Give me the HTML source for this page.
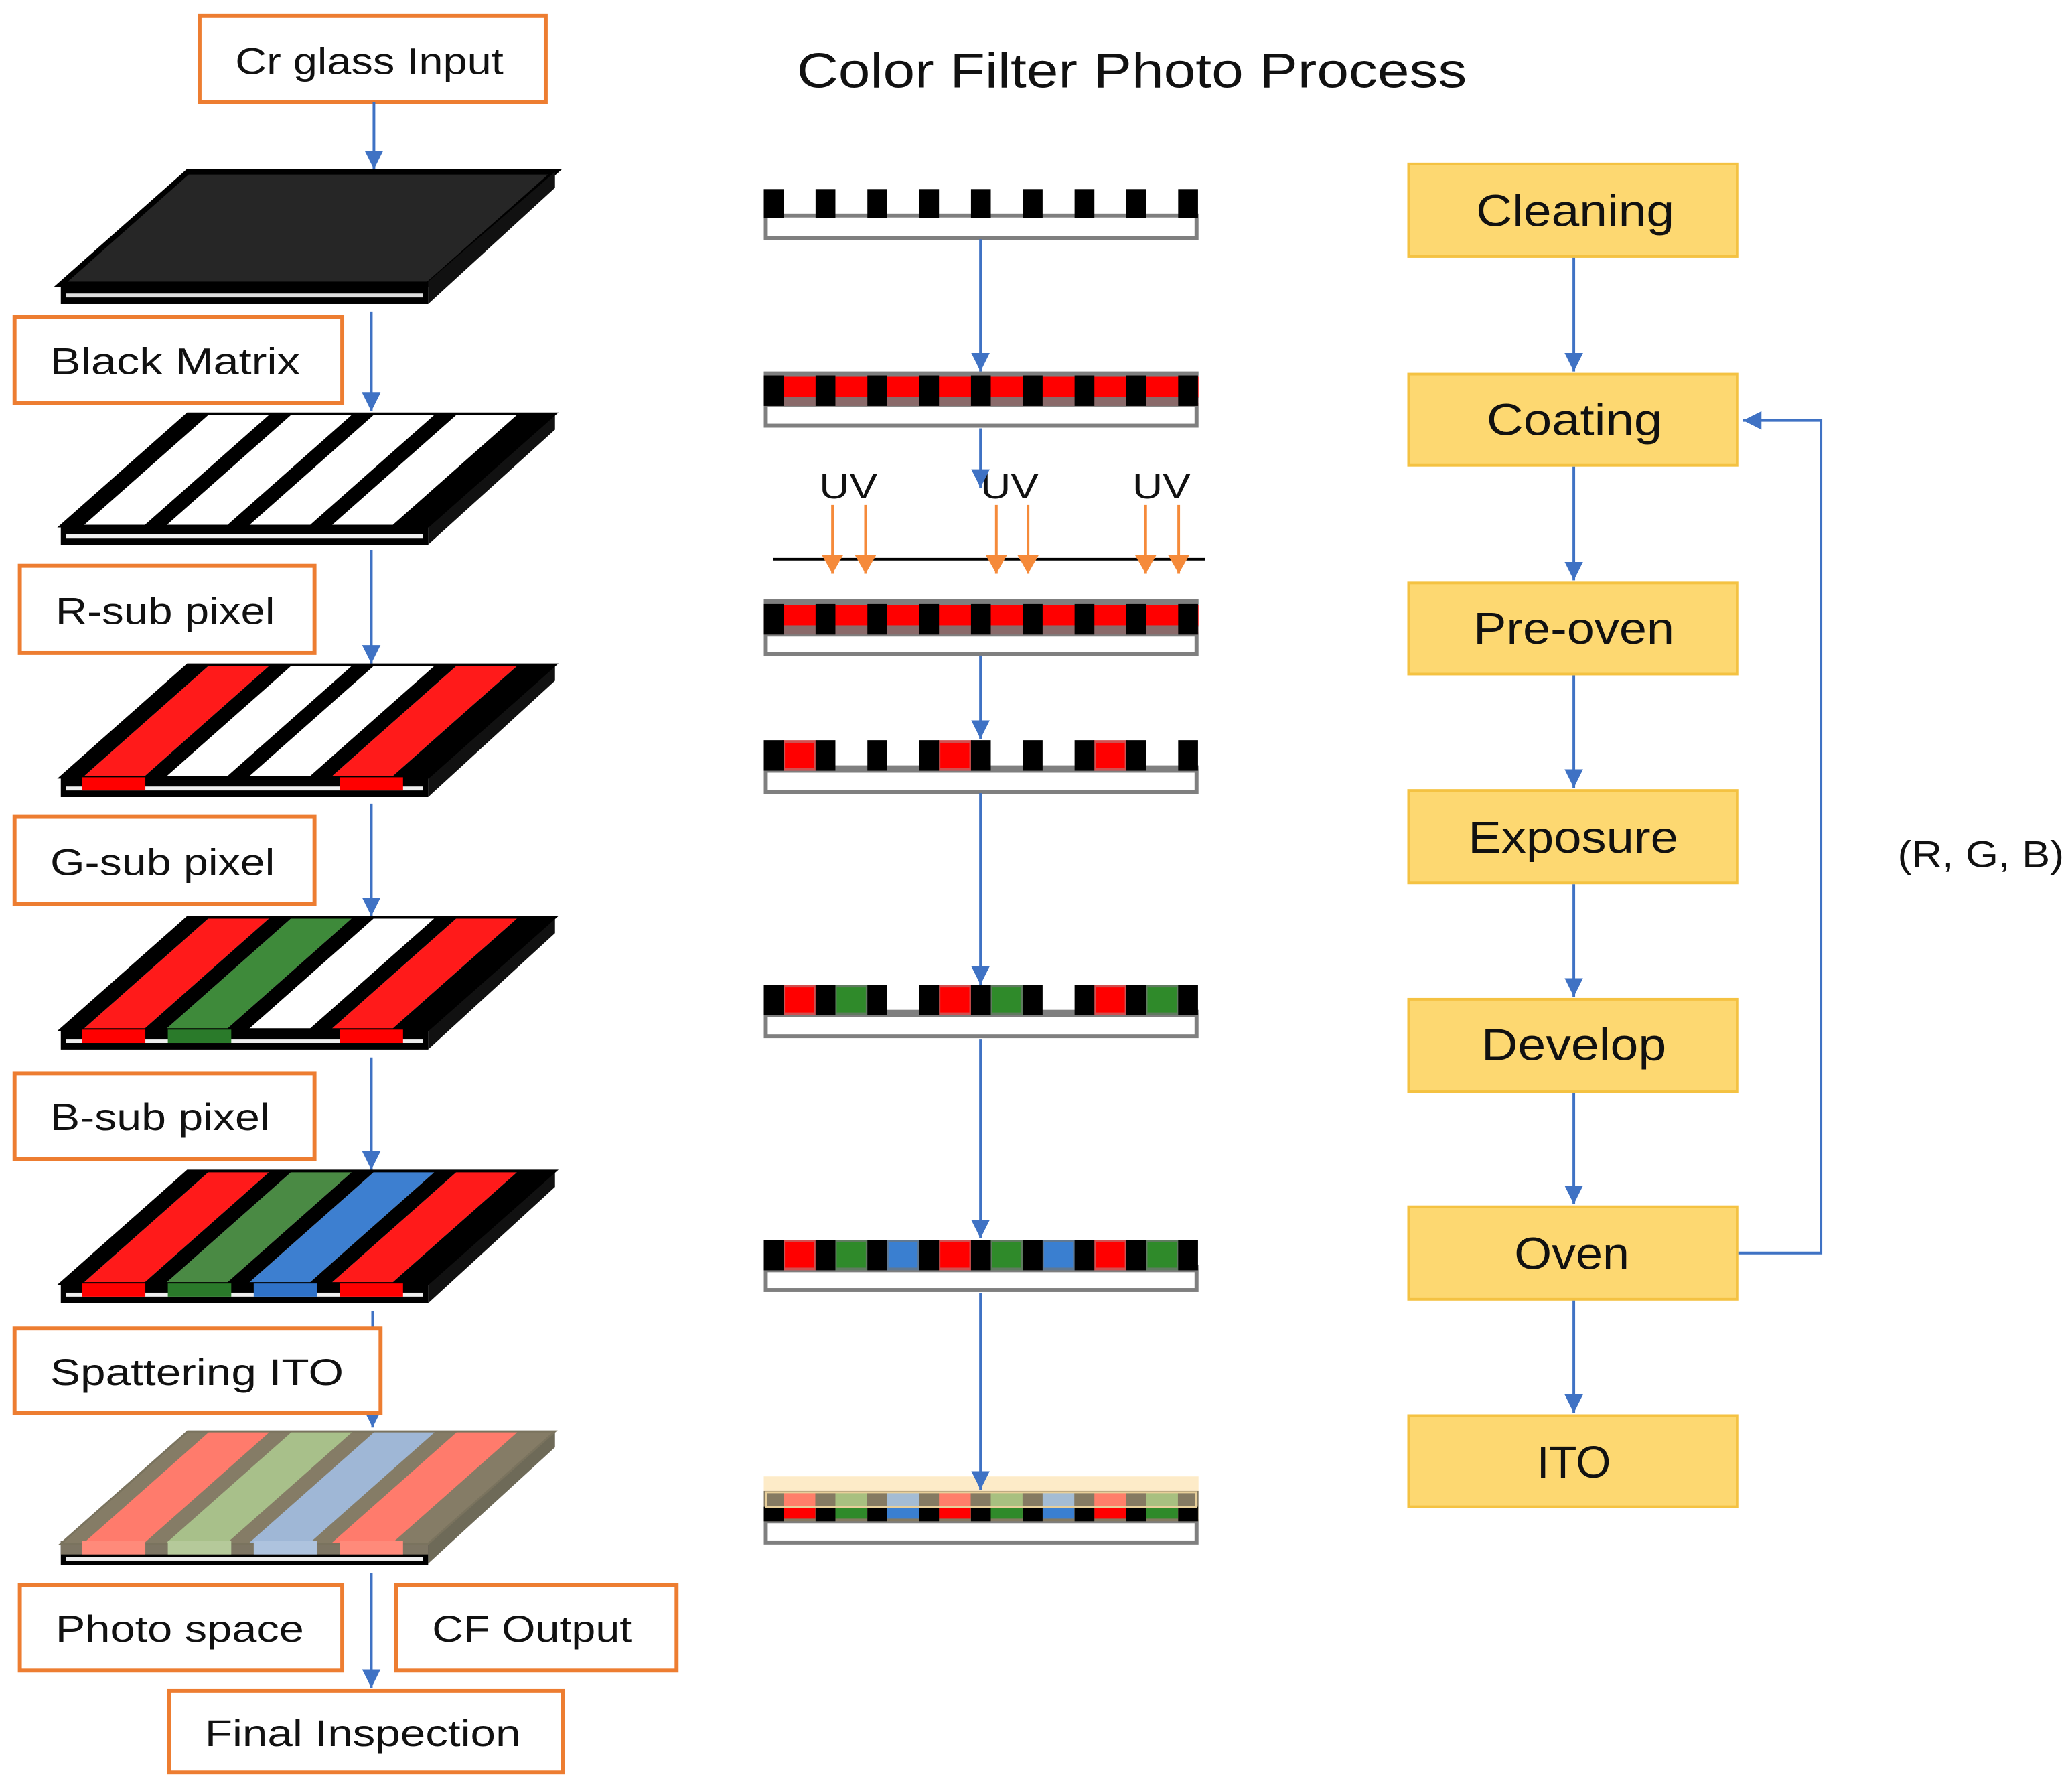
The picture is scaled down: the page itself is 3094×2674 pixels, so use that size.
<!DOCTYPE html>
<html><head><meta charset="utf-8"><style>
html,body{margin:0;padding:0;background:#fff;}
svg{display:block;}
text{font-family:"Liberation Sans",sans-serif;fill:#111;}
</style></head><body>
<svg width="3094" height="2674" viewBox="0 0 1568 1355" xmlns="http://www.w3.org/2000/svg">
<defs>
<marker id="ab" markerWidth="16" markerHeight="16" refX="14" refY="8" orient="auto" markerUnits="userSpaceOnUse"><path d="M0,1 L14,8 L0,15z" fill="#3f72c4"/></marker>
<marker id="ao" markerWidth="18" markerHeight="18" refX="14" refY="9" orient="auto" markerUnits="userSpaceOnUse"><path d="M0,1 L14,9 L0,17z" fill="#f58a3a"/></marker>
<g id="sq">
<rect x="578" width="15" height="1"/><rect x="617.2" width="15" height="1"/><rect x="656.4" width="15" height="1"/><rect x="695.6" width="15" height="1"/><rect x="734.8" width="15" height="1"/><rect x="774" width="15" height="1"/><rect x="813.2" width="15" height="1"/><rect x="852.4" width="15" height="1"/><rect x="891.6" width="15" height="1"/>
</g>
<!-- top-face unit-square bars -->
<g id="bars" fill="#000">
<rect x="0" y="0" width="0.06" height="1"/><rect x="0.225" y="0" width="0.06" height="1"/><rect x="0.45" y="0" width="0.06" height="1"/><rect x="0.675" y="0" width="0.06" height="1"/><rect x="0.9" y="0" width="0.1" height="1"/>
</g>
</defs>

<!-- ===== LEFT COLUMN BOXES ===== -->
<g fill="#fff" stroke="#ED7D31" stroke-width="3">
<rect x="151" y="12" width="262" height="65"/>
<rect x="11" y="240" width="248" height="65"/>
<rect x="15" y="428" width="223" height="66"/>
<rect x="11" y="618" width="227" height="66"/>
<rect x="11" y="812" width="227" height="65"/>
<rect x="300" y="1199" width="212" height="65"/>
<rect x="15" y="1199" width="244" height="65"/>
<rect x="128" y="1279" width="298" height="62"/>
</g>
<g font-size="28">
<text x="178" y="56" textLength="203" lengthAdjust="spacingAndGlyphs">Cr glass Input</text>
<text x="38" y="283" textLength="189" lengthAdjust="spacingAndGlyphs">Black Matrix</text>
<text x="42" y="472" textLength="166" lengthAdjust="spacingAndGlyphs">R-sub pixel</text>
<text x="38" y="662" textLength="170" lengthAdjust="spacingAndGlyphs">G-sub pixel</text>
<text x="38" y="855" textLength="166" lengthAdjust="spacingAndGlyphs">B-sub pixel</text>
<text x="42" y="1242" textLength="188" lengthAdjust="spacingAndGlyphs">Photo space</text>
<text x="327" y="1242" textLength="151" lengthAdjust="spacingAndGlyphs">CF Output</text>
<text x="155" y="1321" textLength="239" lengthAdjust="spacingAndGlyphs">Final Inspection</text>
</g>

<!-- left arrows -->
<g stroke="#3f72c4" stroke-width="2" marker-end="url(#ab)">
<line x1="283" y1="77" x2="283" y2="128"/>
<line x1="281" y1="236" x2="281" y2="311"/>
<line x1="281" y1="416" x2="281" y2="502"/>
<line x1="281" y1="608" x2="281" y2="693"/>
<line x1="281" y1="800" x2="281" y2="885"/>
<line x1="282" y1="992" x2="282" y2="1080"/>
<line x1="281" y1="1190" x2="281" y2="1277"/>
</g>

<!-- ===== PANELS ===== -->
<!-- glass -->
<g>
<polygon points="142,130 420,130 324,215 46,215" fill="#262626" stroke="#000" stroke-width="4"/>
<polygon points="324,213 420,130 420,142 324,230" fill="#111"/>
<rect x="46" y="213" width="278" height="17" fill="#000"/>
<rect x="50" y="222" width="270" height="3" fill="#ddd"/>
</g>
<!-- BM panel -->
<g>
<polygon points="324,397 420,313 420,325 324,412" fill="#111"/>
<rect x="46" y="397" width="278" height="15" fill="#000"/>
<rect x="50" y="404" width="270" height="3" fill="#eee"/>
<g transform="matrix(278 0 -96 85 142 313)">
<rect x="0" y="0" width="1" height="1" fill="#fff"/>
<use href="#bars"/>
<rect x="0" y="0" width="1" height="1" fill="none" stroke="#000" stroke-width="4" vector-effect="non-scaling-stroke"/>
</g>
</g>
<!-- R panel -->
<g>
<polygon points="324,588 420,503 420,515 324,603" fill="#111"/>
<rect x="46" y="588" width="278" height="15" fill="#000"/>
<rect x="50" y="595" width="270" height="3" fill="#eee"/>
<g transform="matrix(278 0 -96 85 142 503)">
<rect x="0" y="0" width="1" height="1" fill="#fff"/>
<rect x="0.06" y="0" width="0.165" height="1" fill="#ff1a1a"/>
<rect x="0.735" y="0" width="0.165" height="1" fill="#ff1a1a"/>
<use href="#bars"/>
<rect x="0" y="0" width="1" height="1" fill="none" stroke="#000" stroke-width="4" vector-effect="non-scaling-stroke"/>
</g>
<g fill="#f00"><rect x="62" y="588" width="48" height="10"/><rect x="257" y="588" width="48" height="10"/></g>
</g>
<!-- G panel -->
<g>
<polygon points="324,779 420,694 420,706 324,794" fill="#111"/>
<rect x="46" y="779" width="278" height="15" fill="#000"/>
<rect x="50" y="786" width="270" height="3" fill="#eee"/>
<g transform="matrix(278 0 -96 85 142 694)">
<rect x="0" y="0" width="1" height="1" fill="#fff"/>
<rect x="0.06" y="0" width="0.165" height="1" fill="#ff1a1a"/>
<rect x="0.285" y="0" width="0.165" height="1" fill="#3e8a3a"/>
<rect x="0.735" y="0" width="0.165" height="1" fill="#ff1a1a"/>
<use href="#bars"/>
<rect x="0" y="0" width="1" height="1" fill="none" stroke="#000" stroke-width="4" vector-effect="non-scaling-stroke"/>
</g>
<g><rect x="62" y="779" width="48" height="10" fill="#f00"/><rect x="127" y="779" width="48" height="10" fill="#2a7a2a"/><rect x="257" y="779" width="48" height="10" fill="#f00"/></g>
</g>
<!-- B panel -->
<g>
<polygon points="324,971 420,886 420,898 324,986" fill="#111"/>
<rect x="46" y="971" width="278" height="15" fill="#000"/>
<rect x="50" y="978" width="270" height="3" fill="#eee"/>
<g transform="matrix(278 0 -96 85 142 886)">
<rect x="0" y="0" width="1" height="1" fill="#fff"/>
<rect x="0.06" y="0" width="0.165" height="1" fill="#ff1a1a"/>
<rect x="0.285" y="0" width="0.165" height="1" fill="#4a8a44"/>
<rect x="0.51" y="0" width="0.165" height="1" fill="#3d7fd0"/>
<rect x="0.735" y="0" width="0.165" height="1" fill="#ff1a1a"/>
<use href="#bars"/>
<rect x="0" y="0" width="1" height="1" fill="none" stroke="#000" stroke-width="4" vector-effect="non-scaling-stroke"/>
</g>
<g><rect x="62" y="971" width="48" height="10" fill="#f00"/><rect x="127" y="971" width="48" height="10" fill="#2a7a2a"/><rect x="192" y="971" width="48" height="10" fill="#2f72c8"/><rect x="257" y="971" width="48" height="10" fill="#f00"/></g>
</g>
<!-- ITO panel -->
<g>
<polygon points="324,1168 420,1083 420,1095 324,1183" fill="#6e6a58"/>
<rect x="46" y="1166" width="278" height="18" fill="#000"/>
<rect x="46" y="1166" width="278" height="10" fill="#7d7563"/>
<rect x="50" y="1178" width="270" height="3" fill="#eee"/>
<g transform="matrix(278 0 -96 85 142 1083)">
<rect x="0" y="0" width="1" height="1" fill="#857c66"/>
<rect x="0.06" y="0" width="0.165" height="1" fill="#ff7b6c"/>
<rect x="0.285" y="0" width="0.165" height="1" fill="#a8c08a"/>
<rect x="0.51" y="0" width="0.165" height="1" fill="#9fb7d6"/>
<rect x="0.735" y="0" width="0.165" height="1" fill="#ff7b6c"/>
<rect x="0" y="0" width="1" height="1" fill="none" stroke="#7a735e" stroke-width="3" vector-effect="non-scaling-stroke"/>
</g>
<g><rect x="62" y="1166" width="48" height="10" fill="#ff8a7a"/><rect x="127" y="1166" width="48" height="10" fill="#b5c99a"/><rect x="192" y="1166" width="48" height="10" fill="#aec3de"/><rect x="257" y="1166" width="48" height="10" fill="#ff8a7a"/></g>
</g>

<!-- Spattering ITO box drawn on top -->
<rect x="11" y="1005" width="277" height="64" fill="#fff" stroke="#ED7D31" stroke-width="3"/>
<text x="38" y="1048" font-size="28" textLength="222" lengthAdjust="spacingAndGlyphs">Spattering ITO</text>

<!-- ===== MIDDLE COLUMN ===== -->
<text x="603" y="66" font-size="37" textLength="507" lengthAdjust="spacingAndGlyphs">Color Filter Photo Process</text>

<!-- Row1 -->
<rect x="579.5" y="163" width="326" height="17" fill="#fff" stroke="#7f7f7f" stroke-width="3"/>
<use href="#sq" transform="translate(0,143) scale(1,22)"/>

<!-- Row2 -->
<rect x="579.5" y="306" width="326" height="16" fill="#fff" stroke="#7f7f7f" stroke-width="3"/>
<rect x="578" y="281" width="329" height="4" fill="#7f7f7f"/>
<rect x="578" y="285" width="329" height="16" fill="#ff0000"/>
<rect x="578" y="300" width="329" height="7" fill="#8a6a6a"/>
<use href="#sq" transform="translate(0,284) scale(1,23)"/>

<!-- Row3 -->
<rect x="579.5" y="480" width="326" height="15" fill="#fff" stroke="#7f7f7f" stroke-width="3"/>
<rect x="578" y="453" width="329" height="5" fill="#7f7f7f"/>
<rect x="578" y="458" width="329" height="16" fill="#ff0000"/>
<rect x="578" y="473" width="329" height="7" fill="#8a6a6a"/>
<use href="#sq" transform="translate(0,457) scale(1,23)"/>

<!-- UV -->
<line x1="585" y1="423" x2="912" y2="423" stroke="#000" stroke-width="2"/>
<g font-size="27">
<text x="620" y="377" textLength="44" lengthAdjust="spacingAndGlyphs">UV</text>
<text x="742" y="377" textLength="44" lengthAdjust="spacingAndGlyphs">UV</text>
<text x="857" y="377" textLength="44" lengthAdjust="spacingAndGlyphs">UV</text>
</g>
<g stroke="#f58a3a" stroke-width="2" marker-end="url(#ao)">
<line x1="630" y1="382" x2="630" y2="434"/>
<line x1="655" y1="382" x2="655" y2="434"/>
<line x1="754" y1="382" x2="754" y2="434"/>
<line x1="778" y1="382" x2="778" y2="434"/>
<line x1="867" y1="382" x2="867" y2="434"/>
<line x1="892" y1="382" x2="892" y2="434"/>
</g>

<!-- Row4 -->
<rect x="579.5" y="583" width="326" height="16" fill="#fff" stroke="#7f7f7f" stroke-width="3"/>
<rect x="578" y="579" width="329" height="4" fill="#7f7f7f"/>
<g fill="#ff0000" stroke="#d05050" stroke-width="2">
<rect x="593" y="561" width="24" height="21"/><rect x="710.6" y="561" width="24" height="21"/><rect x="828.2" y="561" width="24" height="21"/>
</g>
<use href="#sq" transform="translate(0,560) scale(1,23)"/>

<!-- Row5 -->
<rect x="579.5" y="768" width="326" height="16" fill="#fff" stroke="#7f7f7f" stroke-width="3"/>
<rect x="578" y="764" width="329" height="4" fill="#7f7f7f"/>
<g stroke-width="2">
<rect x="593" y="746" width="24" height="21" fill="#ff0000" stroke="#d05050"/><rect x="710.6" y="746" width="24" height="21" fill="#ff0000" stroke="#d05050"/><rect x="828.2" y="746" width="24" height="21" fill="#ff0000" stroke="#d05050"/>
<rect x="632.2" y="746" width="24" height="21" fill="#2f8a2a" stroke="#607a60"/><rect x="749.8" y="746" width="24" height="21" fill="#2f8a2a" stroke="#607a60"/><rect x="867.4" y="746" width="24" height="21" fill="#2f8a2a" stroke="#607a60"/>
</g>
<use href="#sq" transform="translate(0,745) scale(1,23)"/>

<!-- Row6 -->
<rect x="579.5" y="961" width="326" height="15" fill="#fff" stroke="#7f7f7f" stroke-width="3"/>
<rect x="578" y="957" width="329" height="4" fill="#7f7f7f"/>
<g stroke-width="2">
<rect x="593" y="939" width="24" height="21" fill="#ff0000" stroke="#d05050"/><rect x="710.6" y="939" width="24" height="21" fill="#ff0000" stroke="#d05050"/><rect x="828.2" y="939" width="24" height="21" fill="#ff0000" stroke="#d05050"/>
<rect x="632.2" y="939" width="24" height="21" fill="#2f8a2a" stroke="#607a60"/><rect x="749.8" y="939" width="24" height="21" fill="#2f8a2a" stroke="#607a60"/><rect x="867.4" y="939" width="24" height="21" fill="#2f8a2a" stroke="#607a60"/>
<rect x="671.4" y="939" width="24" height="21" fill="#3a7fd0" stroke="#607890"/><rect x="789" y="939" width="24" height="21" fill="#3a7fd0" stroke="#607890"/>
</g>
<use href="#sq" transform="translate(0,938) scale(1,23)"/>

<!-- Row7 -->
<rect x="578" y="1117" width="329" height="12" fill="#fdebc8"/>
<rect x="579.5" y="1151" width="326" height="16" fill="#fff" stroke="#7f7f7f" stroke-width="3"/>
<rect x="578" y="1128" width="329" height="23" fill="#857a62"/>
<g>
<rect x="593" y="1129" width="24" height="12" fill="#ff7f6a"/><rect x="710.6" y="1129" width="24" height="12" fill="#ff7f6a"/><rect x="828.2" y="1129" width="24" height="12" fill="#ff7f6a"/>
<rect x="632.2" y="1129" width="24" height="12" fill="#a8c080"/><rect x="749.8" y="1129" width="24" height="12" fill="#a8c080"/><rect x="867.4" y="1129" width="24" height="12" fill="#a8c080"/>
<rect x="671.4" y="1129" width="24" height="12" fill="#a4bcd4"/><rect x="789" y="1129" width="24" height="12" fill="#a4bcd4"/>
<rect x="593" y="1141" width="24" height="8" fill="#f00"/><rect x="710.6" y="1141" width="24" height="8" fill="#f00"/><rect x="828.2" y="1141" width="24" height="8" fill="#f00"/>
<rect x="632.2" y="1141" width="24" height="8" fill="#2f8a2a"/><rect x="749.8" y="1141" width="24" height="8" fill="#2f8a2a"/><rect x="867.4" y="1141" width="24" height="8" fill="#2f8a2a"/>
<rect x="671.4" y="1141" width="24" height="8" fill="#3a7fd0"/><rect x="789" y="1141" width="24" height="8" fill="#3a7fd0"/>
</g>
<use href="#sq" transform="translate(0,1140) scale(1,11)"/>
<rect x="580" y="1129" width="325" height="11" fill="none" stroke="#e8cf9a" stroke-width="1.5"/>

<!-- middle arrows -->
<g stroke="#3f72c4" stroke-width="2" marker-end="url(#ab)">
<line x1="742" y1="181" x2="742" y2="281"/>
<line x1="742" y1="324" x2="742" y2="369"/>
<line x1="742" y1="496" x2="742" y2="559"/>
<line x1="742" y1="600" x2="742" y2="745"/>
<line x1="742" y1="786" x2="742" y2="937"/>
<line x1="742" y1="978" x2="742" y2="1127"/>
</g>

<!-- ===== RIGHT COLUMN ===== -->
<g fill="#FDD871" stroke="#F4C242" stroke-width="2">
<rect x="1066" y="124" width="249" height="70"/>
<rect x="1066" y="283" width="249" height="69"/>
<rect x="1066" y="441" width="249" height="69"/>
<rect x="1066" y="598" width="249" height="70"/>
<rect x="1066" y="756" width="249" height="70"/>
<rect x="1066" y="913" width="249" height="70"/>
<rect x="1066" y="1071" width="249" height="69"/>
</g>
<g font-size="34">
<text x="1117" y="171" textLength="150" lengthAdjust="spacingAndGlyphs">Cleaning</text>
<text x="1125" y="329" textLength="133" lengthAdjust="spacingAndGlyphs">Coating</text>
<text x="1115" y="487" textLength="152" lengthAdjust="spacingAndGlyphs">Pre-oven</text>
<text x="1111" y="645" textLength="159" lengthAdjust="spacingAndGlyphs">Exposure</text>
<text x="1121" y="802" textLength="140" lengthAdjust="spacingAndGlyphs">Develop</text>
<text x="1146" y="960" textLength="87" lengthAdjust="spacingAndGlyphs">Oven</text>
<text x="1163" y="1118" textLength="56" lengthAdjust="spacingAndGlyphs">ITO</text>
</g>
<g stroke="#3f72c4" stroke-width="2" marker-end="url(#ab)">
<line x1="1191" y1="195" x2="1191" y2="281"/>
<line x1="1191" y1="353" x2="1191" y2="439"/>
<line x1="1191" y1="511" x2="1191" y2="596"/>
<line x1="1191" y1="669" x2="1191" y2="754"/>
<line x1="1191" y1="827" x2="1191" y2="911"/>
<line x1="1191" y1="984" x2="1191" y2="1069"/>
<polyline points="1316,948 1378,948 1378,318 1319,318" fill="none"/>
</g>
<text x="1436" y="656" font-size="28" textLength="126" lengthAdjust="spacingAndGlyphs">(R, G, B)</text>
</svg>
</body></html>
